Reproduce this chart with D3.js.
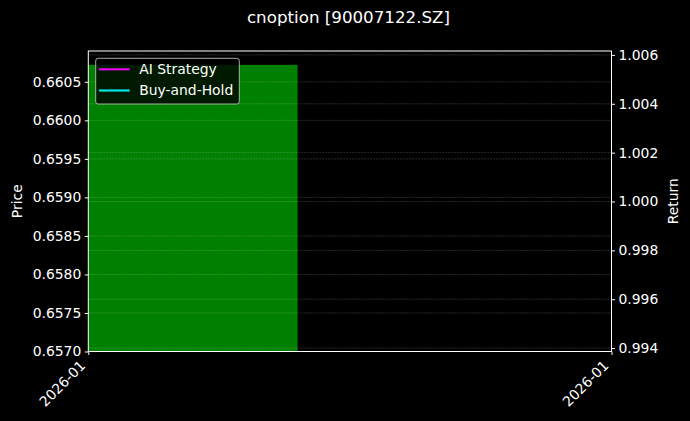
<!DOCTYPE html>
<html>
<head>
<meta charset="utf-8">
<script src="https://cdn.jsdelivr.net/npm/d3@7"></script>
<style>
  html, body { margin: 0; padding: 0; background: #000; }
  svg { display: block; }
  text { font-family: "DejaVu Sans", sans-serif; fill: #fff; }
</style>
</head>
<body>
<script>
// ---- data ----
let title = "cnoption [90007122.SZ]";
let dates = ["2026-01-05"];
let prices = [0.66072];
let aiStrategy = [1.0];
let buyAndHold = [1.0];
let priceTicks = [0.6570, 0.6575, 0.6580, 0.6585, 0.6590, 0.6595, 0.6600, 0.6605];
let returnTicks = [0.994, 0.996, 0.998, 1.000, 1.002, 1.004, 1.006];
let seriesNames = ["AI Strategy", "Buy-and-Hold"];
let seriesColors = ["#f0f", "#0ff"];

const width = 690, height = 421;
const margin = {top: 51, right: 78.5, bottom: 69.5, left: 88.3};
const innerW = width - margin.left - margin.right;
const innerH = height - margin.top - margin.bottom;

let parseDate = d3.timeParse("%Y-%m-%d");
let day = 24 * 3600 * 1000;
let d0 = parseDate(dates[0]);

let svg = d3.select("body").append("svg")
    .attr("width", width)
    .attr("height", height);

svg.append("rect").attr("width", width).attr("height", height).attr("fill", "#000");

let x = d3.scaleTime()
    .domain([new Date(+d0 - 0.4 * day), new Date(+d0 + 1.6 * day)])
    .range([0, innerW]);
let yPrice = d3.scaleLinear().domain([0.65700, 0.66090]).range([innerH, 0]);
let yRet = d3.scaleLinear().domain([0.99386, 1.00616]).range([innerH, 0]);

let g = svg.append("g").attr("transform", `translate(${margin.left},${margin.top})`);

// price bars
g.selectAll(".bar").data(prices).enter()
    .append("rect")
    .attr("class", "bar")
    .attr("x", (d, i) => x(new Date(+parseDate(dates[i]) - 0.4 * day)))
    .attr("width", (d, i) => x(new Date(+parseDate(dates[i]) + 0.4 * day)) - x(new Date(+parseDate(dates[i]) - 0.4 * day)))
    .attr("y", d => yPrice(d))
    .attr("height", d => innerH - yPrice(d))
    .attr("fill", "#008000");

// grid lines for both axes
function grid(scale, ticks) {
    g.append("g")
        .selectAll("line").data(ticks).enter()
        .append("line")
        .attr("x1", 0).attr("x2", innerW)
        .attr("y1", d => scale(d)).attr("y2", d => scale(d))
        .attr("stroke", "#fff")
        .attr("stroke-opacity", 0.28)
        .attr("stroke-width", 0.6)
        .attr("stroke-dasharray", "2,1");
}
grid(yPrice, priceTicks);
grid(yRet, returnTicks);

// return lines (single point each, so nothing visible)
let line = d3.line().x((d, i) => x(parseDate(dates[i]))).y(d => yRet(d));
[aiStrategy, buyAndHold].forEach((s, i) => {
    g.append("path").datum(s)
        .attr("d", line)
        .attr("fill", "none")
        .attr("stroke", seriesColors[i])
        .attr("stroke-width", 2);
});

// frame
g.append("rect")
    .attr("width", innerW).attr("height", innerH)
    .attr("fill", "none").attr("stroke", "#fff").attr("stroke-width", 1);

// axes
function styleAxis(sel) {
    sel.select(".domain").remove();
    sel.selectAll(".tick line").attr("stroke", "#fff").attr("stroke-width", 1);
    sel.selectAll(".tick text").attr("fill", "#fff").style("font-size", "13.9px");
}

g.append("g")
    .call(d3.axisLeft(yPrice).tickValues(priceTicks).tickFormat(d3.format(".4f")).tickSize(3.5).tickPadding(3.5))
    .call(styleAxis);

g.append("g")
    .attr("transform", `translate(${innerW},0)`)
    .call(d3.axisRight(yRet).tickValues(returnTicks).tickFormat(d3.format(".3f")).tickSize(3.5).tickPadding(3.5))
    .call(styleAxis);

let xAxis = g.append("g")
    .attr("transform", `translate(0,${innerH})`)
    .call(d3.axisBottom(x).tickValues(x.domain()).tickFormat(d3.timeFormat("%Y-%m")).tickSize(3.5))
    .call(styleAxis);
xAxis.selectAll(".tick text")
    .attr("text-anchor", "end")
    .attr("dy", null)
    .attr("y", null)
    .attr("transform", "translate(-2.5,15) rotate(-45)");

// axis labels
svg.append("text")
    .attr("transform", `translate(21.5,${margin.top + innerH / 2}) rotate(-90)`)
    .attr("text-anchor", "middle")
    .style("font-size", "13.9px")
    .text("Price");

svg.append("text")
    .attr("transform", `translate(678,${margin.top + innerH / 2}) rotate(-90)`)
    .attr("text-anchor", "middle")
    .style("font-size", "13.9px")
    .text("Return");

// title
svg.append("text")
    .attr("x", 348.5).attr("y", 22.5)
    .attr("text-anchor", "middle")
    .style("font-size", "16.7px")
    .text(title);

// legend
let legend = g.append("g").attr("transform", "translate(7.4,7.3)");
legend.append("rect")
    .attr("width", 143.6).attr("height", 45.7)
    .attr("rx", 2.5)
    .attr("fill", "#000").attr("fill-opacity", 0.8)
    .attr("stroke", "#ccc").attr("stroke-opacity", 0.8).attr("stroke-width", 1);
seriesNames.forEach((name, i) => {
    let ly = 11 + i * 21.2;
    legend.append("line")
        .attr("x1", 3.2).attr("x2", 34)
        .attr("y1", ly).attr("y2", ly)
        .attr("stroke", seriesColors[i]).attr("stroke-opacity", 0.9).attr("stroke-width", 2.2);
    legend.append("text")
        .attr("x", 43.5).attr("y", ly + 5)
        .style("font-size", "13.9px")
        .text(name);
});
</script>
</body>
</html>
